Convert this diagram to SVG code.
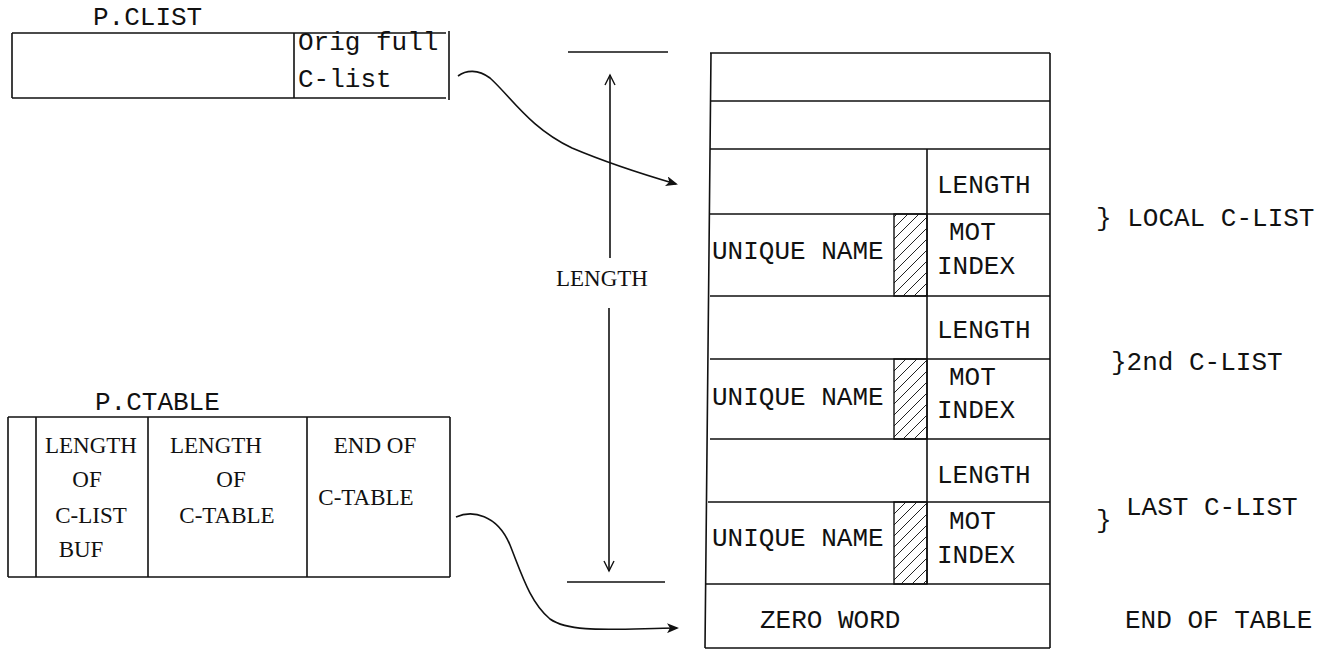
<svg xmlns="http://www.w3.org/2000/svg" width="1335" height="651" viewBox="0 0 1335 651">
<defs>
<style>
.ln{stroke:#111;stroke-width:1.6;fill:none}
.tw{font-family:"Liberation Mono",monospace;font-size:26px;fill:#111}
.sf{font-family:"Liberation Serif",serif;font-size:23px;fill:#111}
.hatch{fill:url(#hp);stroke:#111;stroke-width:1.4}
</style>
<pattern id="hp" patternUnits="userSpaceOnUse" width="11" height="11">
<path d="M-3,3 L3,-3 M0,11 L11,0 M8,14 L14,8" stroke="#222" stroke-width="1"/>
</pattern>
<marker id="ah" markerWidth="12" markerHeight="10" refX="10" refY="5" orient="auto" markerUnits="userSpaceOnUse">
<path d="M0,0 L12,5 L0,10 L3,5 Z" fill="#111"/>
</marker>
<marker id="va" markerWidth="14" markerHeight="12" refX="12" refY="6" orient="auto" markerUnits="userSpaceOnUse">
<path d="M2,1 L12,6 L2,11" fill="none" stroke="#111" stroke-width="1.4"/>
</marker>
</defs>
<rect width="1335" height="651" fill="#fff"/>

<g id="pclist">
<text class="tw" x="93" y="25">P.CLIST</text>
<path class="ln" d="M12,33 H446 M12,98 H446 M12,33 V98 M294,33 V98 M449,31 V100"/>
<text class="tw" x="298" y="50">Orig full</text>
<text class="tw" x="298" y="87">C-list</text>
</g>

<g id="pctable">
<text class="tw" x="95" y="410">P.CTABLE</text>
<path class="ln" d="M8,417 H450 M8,577 H450 M8,417 V577 M36,417 V577 M148,417 V577 M307,417 V577 M450,417 V577"/>
<text class="sf" x="91" y="453" text-anchor="middle">LENGTH</text>
<text class="sf" x="87" y="487" text-anchor="middle">OF</text>
<text class="sf" x="91" y="523" text-anchor="middle">C-LIST</text>
<text class="sf" x="81" y="557" text-anchor="middle">BUF</text>
<text class="sf" x="216" y="453" text-anchor="middle">LENGTH</text>
<text class="sf" x="231" y="487" text-anchor="middle">OF</text>
<text class="sf" x="227" y="523" text-anchor="middle">C-TABLE</text>
<text class="sf" x="375" y="453" text-anchor="middle">END OF</text>
<text class="sf" x="366" y="505" text-anchor="middle">C-TABLE</text>
</g>

<g id="length-dim">
<path class="ln" d="M568,52 H668 M567,582 H665"/>
<path class="ln" d="M610,258 V75" marker-end="url(#va)"/>
<path class="ln" d="M609,308 V571" marker-end="url(#va)"/>
<text class="sf" x="602" y="286" text-anchor="middle">LENGTH</text>
</g>

<g id="ctable">
<path class="ln" d="M710,53 H1050 M710,101 H1050 M710,149 H1050 M710,214 H1050 M710,296 H1050 M710,359 H1050 M710,439 H1050 M708,502 H1050 M706,584 H1050 M705,648 H1050"/>
<path class="ln" d="M711,53 L705,648 M1050,53 V648 M927,149 V584"/>
<rect class="hatch" x="894" y="214" width="33" height="82"/>
<rect class="hatch" x="894" y="359" width="33" height="80"/>
<rect class="hatch" x="894" y="502" width="33" height="82"/>
<text class="tw" x="937" y="193">LENGTH</text>
<text class="tw" x="712" y="259">UNIQUE NAME</text>
<text class="tw" x="949" y="240">MOT</text>
<text class="tw" x="937" y="274">INDEX</text>
<text class="tw" x="937" y="338">LENGTH</text>
<text class="tw" x="712" y="405">UNIQUE NAME</text>
<text class="tw" x="949" y="385">MOT</text>
<text class="tw" x="937" y="418">INDEX</text>
<text class="tw" x="937" y="483">LENGTH</text>
<text class="tw" x="712" y="546">UNIQUE NAME</text>
<text class="tw" x="949" y="529">MOT</text>
<text class="tw" x="937" y="563">INDEX</text>
<text class="tw" x="760" y="628">ZERO WORD</text>
</g>

<g id="labels">
<text class="tw" x="1096" y="226">} LOCAL C-LIST</text>
<text class="tw" x="1111" y="370">}2nd C-LIST</text>
<text class="tw" x="1096" y="528">}</text>
<text class="tw" x="1126" y="515">LAST C-LIST</text>
<text class="tw" x="1125" y="628">END OF TABLE</text>
</g>

<g id="connectors">
<path class="ln" d="M458,76 C466,70 478,69 490,78 C512,98 530,128 572,148 C605,162 635,172 676,184" marker-end="url(#ah)"/>
<path class="ln" d="M456,517 C472,510 497,514 510,545 C522,575 530,602 550,619 C570,633 610,629 677,628" marker-end="url(#ah)"/>
</g>
</svg>
